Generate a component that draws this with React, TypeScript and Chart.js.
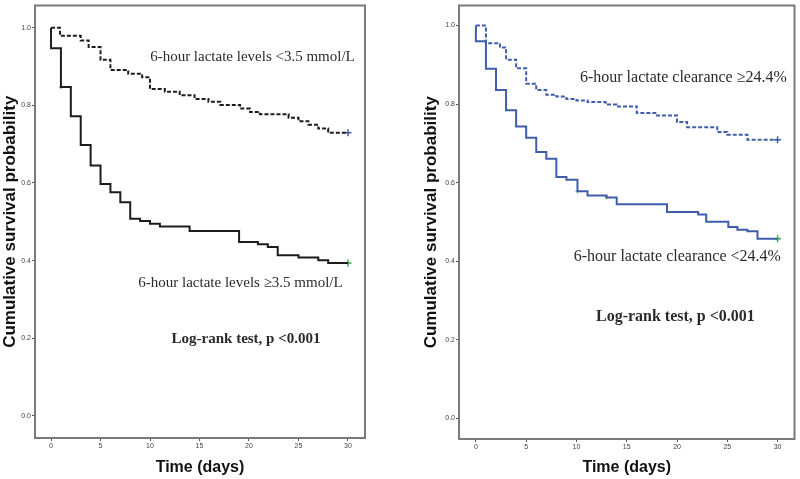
import React, { useEffect, useRef } from "react";
import Chart from "chart.js/auto";

// left panel: 6-hour lactate levels
const lowLacDays = [0, 0.9, 3, 3.8, 5, 6, 7.8, 9.2, 10, 11.5, 13, 14.5, 15.9, 17.1, 19.1, 20.1, 21.1, 24, 25, 26, 27, 28, 30];
const lowLacSurv = [1.0, 0.979, 0.967, 0.95, 0.917, 0.891, 0.881, 0.872, 0.842, 0.835, 0.826, 0.816, 0.809, 0.801, 0.792, 0.783, 0.777, 0.768, 0.759, 0.75, 0.74, 0.729, 0.729];
const highLacDays = [0, 0, 1, 2, 3, 4, 5, 6, 7, 8, 9, 10, 11, 14, 19, 20.9, 21.9, 22.9, 25, 27, 28, 30];
const highLacSurv = [1.0, 0.947, 0.847, 0.772, 0.698, 0.645, 0.597, 0.576, 0.55, 0.508, 0.502, 0.495, 0.488, 0.476, 0.448, 0.442, 0.435, 0.414, 0.408, 0.401, 0.394, 0.394];

// right panel: 6-hour lactate clearance
const highClrDays = [0, 1, 2.4, 3, 4, 5, 6, 7, 8, 9, 10, 11.1, 12.9, 14, 16, 18, 20, 21, 24, 25, 27, 30];
const highClrSurv = [1.0, 0.955, 0.944, 0.913, 0.891, 0.852, 0.836, 0.824, 0.819, 0.813, 0.809, 0.805, 0.799, 0.794, 0.777, 0.771, 0.754, 0.741, 0.729, 0.722, 0.709, 0.709];
const lowClrDays = [0, 0, 1, 2, 3, 4, 5, 6, 7, 8, 9, 10.1, 11.1, 13, 14, 19, 22.1, 22.9, 25.1, 26, 27, 28, 30];
const lowClrSurv = [1.0, 0.96, 0.89, 0.836, 0.784, 0.743, 0.714, 0.678, 0.661, 0.614, 0.607, 0.578, 0.567, 0.562, 0.545, 0.525, 0.519, 0.5, 0.487, 0.48, 0.476, 0.457, 0.457];

// censor marks (last one is the end-of-follow-up mark)
const lowLacCensorDays = [30];
const lowLacCensorSurv = [0.729];
const highLacCensorDays = [1, 30];
const highLacCensorSurv = [0.847, 0.394];
const highClrCensorDays = [30];
const highClrCensorSurv = [0.709];
const lowClrCensorDays = [10.1, 13, 30];
const lowClrCensorSurv = [0.578, 0.562, 0.457];

const xTicks = [0, 5, 10, 15, 20, 25, 30];
const yTicks = [0, 0.2, 0.4, 0.6, 0.8, 1.0];

const BLUE = "#3f5dab";
const GREEN = "#3aa845";
const BLACK = "#1c1c1c";

type Note = { text: string; x: number; y: number; bold?: boolean };

interface Curve {
  days: number[];
  surv: number[];
  color: string;
  dashed: boolean;
  censorDays: number[];
  censorSurv: number[];
  censorColor: string;
}

interface PanelProps {
  curves: Curve[];
  notes: Note[];
  noteSize: number;
  xMin: number;
  xMax: number;
  yMin: number;
  yMax: number;
  padLeft: number;
  padRight: number;
  yAxisWidth: number;
  xAxisHeight: number;
}

const toPoints = (xs: number[], ys: number[]) => xs.map((x, i) => ({ x, y: ys[i] }));

const KmPanel: React.FC<PanelProps> = (p) => {
  const chartRef = useRef<HTMLCanvasElement | null>(null);
  const chartInstance = useRef<Chart | null>(null);

  useEffect(() => {
    if (!chartRef.current) return;
    if (chartInstance.current) chartInstance.current.destroy();
    const ctx = chartRef.current.getContext("2d");
    if (!ctx) return;

    const datasets: any[] = [];
    p.curves.forEach((c) => {
      datasets.push({
        data: toPoints(c.days, c.surv),
        borderColor: c.color,
        borderWidth: 2,
        borderDash: c.dashed ? [4, 2] : [],
        stepped: "before",
        pointRadius: 0,
        fill: false,
      });
      const last = c.censorDays.length - 1;
      datasets.push({
        data: toPoints(c.censorDays, c.censorSurv),
        showLine: false,
        pointStyle: "cross",
        pointRadius: (cx: any) => (cx.dataIndex === last ? 3.5 : 2),
        pointBorderWidth: (cx: any) => (cx.dataIndex === last ? 1.5 : 1),
        pointBorderColor: c.censorColor,
        borderColor: c.censorColor,
      });
    });

    const framePlugin = {
      id: "frame",
      beforeDatasetsDraw(chart: any) {
        const { ctx, chartArea } = chart;
        ctx.save();
        ctx.strokeStyle = "#7a7a7a";
        ctx.lineWidth = 2;
        ctx.strokeRect(chartArea.left, chartArea.top, chartArea.right - chartArea.left, chartArea.bottom - chartArea.top);
        ctx.restore();
      },
    };

    const notesPlugin = {
      id: "notes",
      afterDatasetsDraw(chart: any) {
        const { ctx, scales } = chart;
        ctx.save();
        ctx.fillStyle = "#2b2b2b";
        ctx.textAlign = "center";
        ctx.textBaseline = "middle";
        p.notes.forEach((n) => {
          ctx.font = `${n.bold ? "bold " : ""}${p.noteSize}px "Liberation Serif"`;
          ctx.fillText(n.text, scales.x.getPixelForValue(n.x), scales.y.getPixelForValue(n.y));
        });
        ctx.restore();
      },
    };

    chartInstance.current = new Chart(ctx, {
      type: "line",
      data: { datasets },
      options: {
        responsive: false,
        animation: false,
        layout: { padding: { left: p.padLeft, right: p.padRight, top: 5, bottom: 0 } },
        plugins: { legend: { display: false }, tooltip: { enabled: false } },
        scales: {
          x: {
            type: "linear",
            min: p.xMin,
            max: p.xMax,
            afterBuildTicks: (s: any) => {
              s.ticks = xTicks.map((v) => ({ value: v }));
            },
            afterFit: (s: any) => {
              s.height = p.xAxisHeight;
            },
            border: { display: false },
            grid: { drawOnChartArea: false, tickLength: 3, color: "#555" },
            ticks: {
              padding: 1,
              color: "#444",
              font: { size: 7, family: "Liberation Sans" },
              callback: (v: any) => String(v),
            },
            title: {
              display: true,
              text: "Time (days)",
              color: "#111",
              padding: { top: 0, bottom: 2 },
              font: { size: 16, weight: "bold", family: "Liberation Sans" },
            },
          },
          y: {
            type: "linear",
            min: p.yMin,
            max: p.yMax,
            afterBuildTicks: (s: any) => {
              s.ticks = yTicks.map((v) => ({ value: v }));
            },
            afterFit: (s: any) => {
              s.width = p.yAxisWidth;
            },
            border: { display: false },
            grid: { drawOnChartArea: false, tickLength: 3, color: "#555" },
            ticks: {
              padding: 1,
              color: "#444",
              font: { size: 7, family: "Liberation Sans" },
              callback: (v: any) => Number(v).toFixed(1),
            },
            title: {
              display: true,
              text: "Cumulative survival probability",
              color: "#111",
              padding: { top: 0, bottom: 0 },
              font: { size: 17, weight: "bold", family: "Liberation Sans" },
            },
          },
        },
      } as any,
      plugins: [framePlugin, notesPlugin],
    });

    return () => {
      if (chartInstance.current) {
        chartInstance.current.destroy();
        chartInstance.current = null;
      }
    };
  }, []);

  return <canvas ref={chartRef} width={400} height={479} style={{ display: "block" }} />;
};

export default function App() {
  return (
    <div style={{ position: "absolute", left: 0, top: 0, width: 800, height: 479, background: "#fff" }}>
      <div style={{ position: "absolute", left: 0, top: 0, width: 400, height: 479 }}>
        <KmPanel
          curves={[
            { days: lowLacDays, surv: lowLacSurv, color: BLACK, dashed: true, censorDays: lowLacCensorDays, censorSurv: lowLacCensorSurv, censorColor: BLUE },
            { days: highLacDays, surv: highLacSurv, color: BLACK, dashed: false, censorDays: highLacCensorDays, censorSurv: highLacCensorSurv, censorColor: GREEN },
          ]}
          notes={[
            { text: "6-hour lactate levels <3.5 mmol/L", x: 20.35, y: 0.923 },
            { text: "6-hour lactate levels \u22653.5 mmol/L", x: 19.14, y: 0.342 },
            { text: "Log-rank test, p <0.001", x: 19.7, y: 0.198, bold: true },
          ]}
          noteSize={15}
          xMin={-1.62}
          xMax={31.72}
          yMin={-0.057}
          yMax={1.057}
          padLeft={0}
          padRight={35}
          yAxisWidth={35}
          xAxisHeight={41}
        />
      </div>
      <div style={{ position: "absolute", left: 400, top: 0, width: 400, height: 479 }}>
        <KmPanel
          curves={[
            { days: highClrDays, surv: highClrSurv, color: BLUE, dashed: true, censorDays: highClrCensorDays, censorSurv: highClrCensorSurv, censorColor: BLUE },
            { days: lowClrDays, surv: lowClrSurv, color: BLUE, dashed: false, censorDays: lowClrCensorDays, censorSurv: lowClrCensorSurv, censorColor: GREEN },
          ]}
          notes={[
            { text: "6-hour lactate clearance \u226524.4%", x: 20.63, y: 0.868 },
            { text: "6-hour lactate clearance <24.4%", x: 20.03, y: 0.41 },
            { text: "Log-rank test, p <0.001", x: 19.84, y: 0.257, bold: true },
          ]}
          noteSize={16}
          xMin={-1.68}
          xMax={31.68}
          yMin={-0.053}
          yMax={1.051}
          padLeft={21}
          padRight={3}
          yAxisWidth={38}
          xAxisHeight={40}
        />
      </div>
    </div>
  );
}
